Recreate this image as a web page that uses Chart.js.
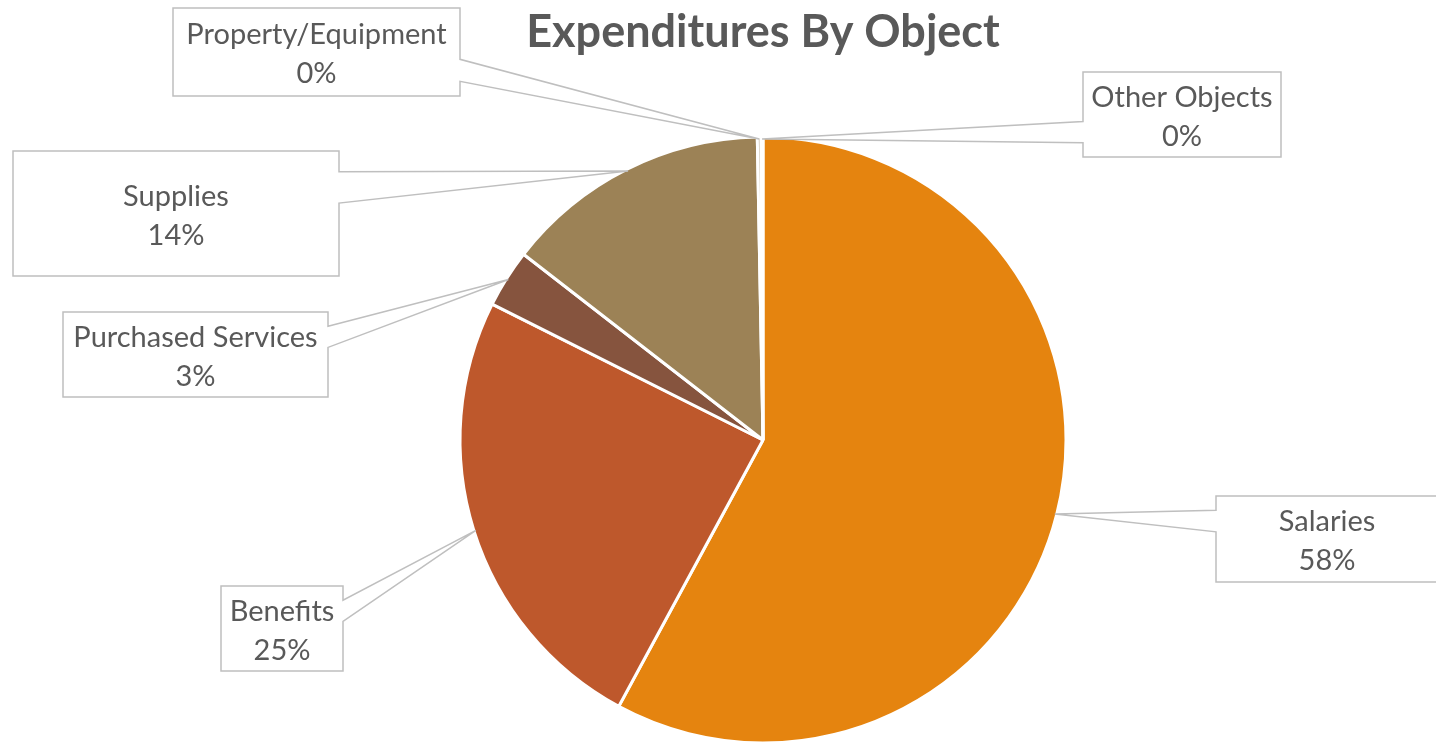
<!DOCTYPE html>
<html lang="en">
<head>
  <meta charset="UTF-8">
  <title>Expenditures By Object</title>
  <script src="https://cdn.jsdelivr.net/npm/chart.js"></script>
  <style>
    html, body { margin: 0; padding: 0; background: #fff; }
    #wrap { width: 1436px; height: 743px; position: relative; }
  </style>
</head>
<body>
  <div id="wrap"><canvas id="pieChart"></canvas></div>

  <script>
    // data (percent of total)
    const categories = ['Salaries', 'Benefits', 'Purchased Services', 'Supplies', 'Property/Equipment', 'Other Objects'];
    const shares = [57.9, 24.5, 3.1, 14.2, 0.2, 0.1];
    const sliceColors = ['#E5840F', '#BE582C', '#86543E', '#9C8256', '#B8A88E', '#D9C6A8'];

    // callout boxes: offset of top-left corner from the pie centre, and size (px)
    const calloutBoxes = [
      { dx: 453, dy: 56, w: 222, h: 86 },
      { dx: -542, dy: 146, w: 122, h: 85 },
      { dx: -700, dy: -128, w: 265, h: 85 },
      { dx: -750, dy: -289, w: 326, h: 125 },
      { dx: -590, dy: -432, w: 287, h: 88 },
      { dx: 320, dy: -368, w: 198, h: 85 }
    ];

    const textColor = '#595959';
    const boxLine = '#BFBFBF';
    const labelFont = '29px Lato, "Open Sans", sans-serif';

    // wedge callout like the office "wedgeRectCallout" shape
    const drawCallout = (ctx, x0, y0, w, h, tx, ty) => {
      const x1 = x0 + w, y1 = y0 + h;
      const dx = tx - (x0 + w / 2), dy = ty - (y0 + h / 2);
      const dq = dx * h / w;
      let side;
      if (Math.abs(dy) < Math.abs(dq)) side = dx > 0 ? 'right' : 'left';
      else side = dy > 0 ? 'bottom' : 'top';
      const fy = dy > 0 ? [7, 10] : [2, 5];
      const fx = dx > 0 ? [7, 10] : [2, 5];
      const by1 = y0 + h * fy[0] / 12, by2 = y0 + h * fy[1] / 12;
      const bx1 = x0 + w * fx[0] / 12, bx2 = x0 + w * fx[1] / 12;

      ctx.beginPath();
      ctx.moveTo(x0, y0);
      if (side === 'top') { ctx.lineTo(bx1, y0); ctx.lineTo(tx, ty); ctx.lineTo(bx2, y0); }
      ctx.lineTo(x1, y0);
      if (side === 'right') { ctx.lineTo(x1, by1); ctx.lineTo(tx, ty); ctx.lineTo(x1, by2); }
      ctx.lineTo(x1, y1);
      if (side === 'bottom') { ctx.lineTo(bx2, y1); ctx.lineTo(tx, ty); ctx.lineTo(bx1, y1); }
      ctx.lineTo(x0, y1);
      if (side === 'left') { ctx.lineTo(x0, by2); ctx.lineTo(tx, ty); ctx.lineTo(x0, by1); }
      ctx.closePath();
      ctx.fillStyle = '#fff';
      ctx.fill();
      ctx.lineWidth = 1.5;
      ctx.strokeStyle = boxLine;
      ctx.stroke();
    };

    const calloutPlugin = {
      id: 'callouts',
      afterDatasetsDraw(chart) {
        const ctx = chart.ctx;
        const meta = chart.getDatasetMeta(0);
        const total = shares.reduce((a, b) => a + b, 0);
        ctx.save();
        meta.data.forEach((arc, i) => {
          const { x, y, startAngle, endAngle, outerRadius } = arc.getProps(['x', 'y', 'startAngle', 'endAngle', 'outerRadius'], true);
          const mid = (startAngle + endAngle) / 2;
          const tx = x + Math.cos(mid) * (outerRadius - 2);
          const ty = y + Math.sin(mid) * (outerRadius - 2);
          const b = calloutBoxes[i];
          const bx = x + b.dx, by = y + b.dy;
          drawCallout(ctx, bx, by, b.w, b.h, tx, ty);

          const pct = Math.round(shares[i] * 100 / total) + '%';
          ctx.fillStyle = textColor;
          ctx.font = labelFont;
          ctx.textAlign = 'center';
          ctx.textBaseline = 'middle';
          const cx = bx + b.w / 2, cy = by + b.h / 2;
          ctx.fillText(categories[i], cx, cy - 17);
          ctx.fillText(pct, cx, cy + 22);
        });
        ctx.restore();
      }
    };

    new Chart(document.getElementById('pieChart'), {
      type: 'pie',
      data: {
        labels: categories,
        datasets: [{
          data: shares,
          backgroundColor: sliceColors,
          borderColor: '#fff',
          borderWidth: 3
        }]
      },
      options: {
        responsive: true,
        maintainAspectRatio: false,
        animation: false,
        radius: 303,
        layout: { padding: { left: 90, right: 0, top: 0, bottom: 0 } },
        plugins: {
          legend: { display: false },
          tooltip: { enabled: false },
          title: {
            display: true,
            text: 'Expenditures By Object',
            color: textColor,
            font: { family: 'Lato, "Open Sans", sans-serif', size: 45, weight: 'bold', lineHeight: 1.2 },
            padding: { top: 5, bottom: 78 }
          }
        }
      },
      plugins: [calloutPlugin]
    });
  </script>
</body>
</html>
